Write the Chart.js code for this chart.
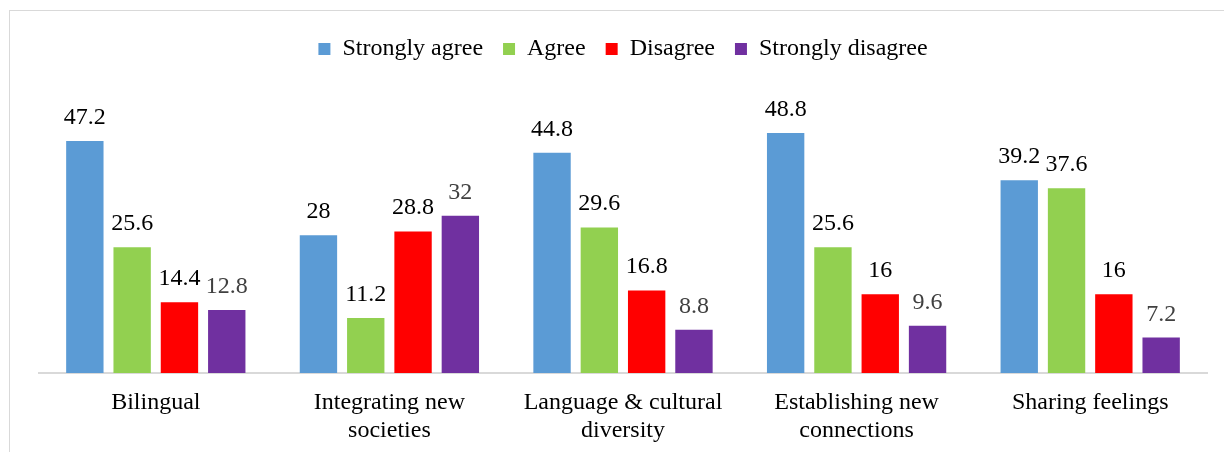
<!DOCTYPE html>
<html>
<head>
<meta charset="utf-8">
<script src="https://cdn.jsdelivr.net/npm/chart.js@4"></script>
<style>
  html, body { margin: 0; padding: 0; background: #fff; overflow: hidden; width: 1224px; height: 452px; }
  #frame { position: absolute; left: 9px; top: 10px; width: 1400px; height: 600px; border: 1px solid #d9d9d9; }
  #chart { position: absolute; left: 0; top: 0; }
</style>
</head>
<body>
<div id="frame"></div>
<canvas id="chart" width="1224" height="452"></canvas>
<script>
// categories (multi-line labels as drawn under the axis)
const categories = [
    ['Bilingual'],
    ['Integrating new', 'societies'],
    ['Language & cultural', 'diversity'],
    ['Establishing new', 'connections'],
    ['Sharing feelings']
];
const seriesNames = ['Strongly agree', 'Agree', 'Disagree', 'Strongly disagree'];
const stronglyAgree = [47.2, 28, 44.8, 48.8, 39.2];
const agree = [25.6, 11.2, 29.6, 25.6, 37.6];
const disagree = [14.4, 28.8, 16.8, 16, 16];
const stronglyDisagree = [12.8, 32, 8.8, 9.6, 7.2];

const colors = ['#5B9BD5', '#92D050', '#FF0000', '#7030A0'];
const labelColors = ['#000000', '#000000', '#000000', '#404040'];
const serif = "'Liberation Serif', 'Times New Roman', serif";

// draws the value above each bar
const valueLabels = {
    id: 'valueLabels',
    afterDatasetsDraw(chart) {
        const ctx = chart.ctx;
        ctx.save();
        ctx.font = '24px ' + serif;
        ctx.textAlign = 'center';
        ctx.textBaseline = 'alphabetic';
        chart.data.datasets.forEach((ds, i) => {
            const meta = chart.getDatasetMeta(i);
            ctx.fillStyle = labelColors[i];
            meta.data.forEach((bar, j) => {
                ctx.fillText(String(ds.data[j]), bar.x, bar.y - 17);
            });
        });
        ctx.restore();
    }
};

// a bit more room under the legend
const legendGap = {
    id: 'legendGap',
    afterInit(chart) {
        if (!chart.legend) return;
        const fit = chart.legend.fit;
        chart.legend.fit = function () {
            fit.call(this);
            this.height += 7;
        };
    }
};

const allSeries = [stronglyAgree, agree, disagree, stronglyDisagree];

new Chart(document.getElementById('chart').getContext('2d'), {
    type: 'bar',
    data: {
        labels: categories,
        datasets: allSeries.map((data, i) => ({
            label: seriesNames[i],
            data: data,
            backgroundColor: colors[i],
            borderWidth: 0,
            categoryPercentage: 0.81,
            barPercentage: 0.79
        }))
    },
    options: {
        responsive: false,
        animation: false,
        layout: { padding: { left: 39, right: 17, top: 17, bottom: 0 } },
        plugins: {
            legend: {
                position: 'top',
                labels: {
                    boxWidth: 12,
                    boxHeight: 12,
                    padding: 20,
                    color: '#000',
                    font: { family: serif, size: 24 }
                }
            },
            tooltip: { enabled: false }
        },
        scales: {
            x: {
                grid: { display: false, drawTicks: false },
                border: { display: true, color: '#d9d9d9', width: 2 },
                ticks: {
                    color: '#000',
                    padding: 16,
                    maxRotation: 0,
                    autoSkip: false,
                    font: { family: serif, size: 24, lineHeight: 1.15 }
                },
                afterFit: (scale) => { scale.height = 79; }
            },
            y: {
                display: false,
                min: 0,
                max: 60
            }
        }
    },
    plugins: [valueLabels, legendGap]
});
</script>
</body>
</html>
